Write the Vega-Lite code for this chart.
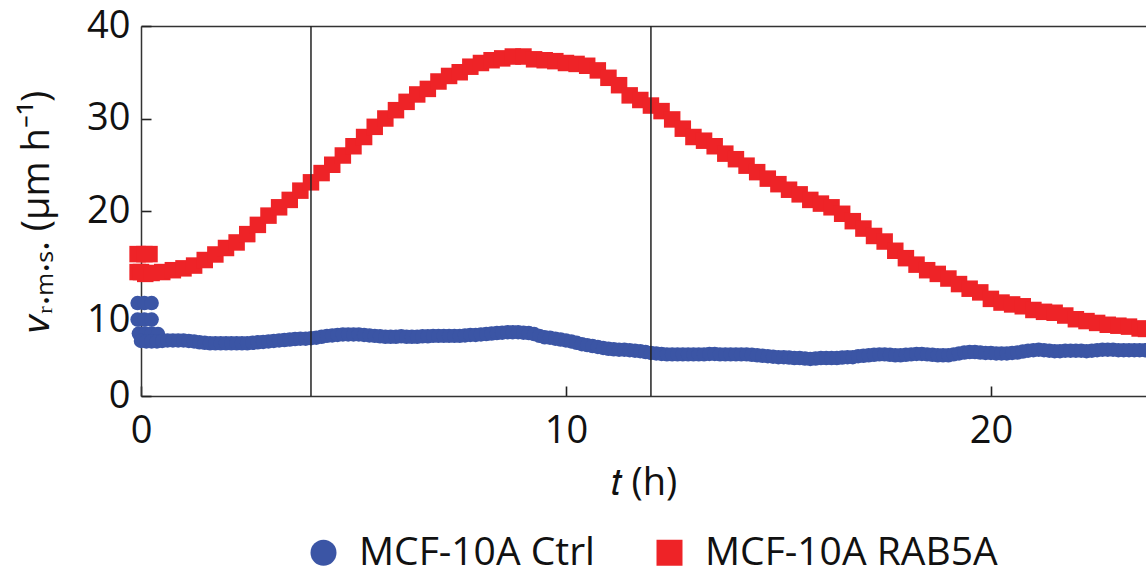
{
  "$schema": "https://vega.github.io/schema/vega-lite/v6.json",
  "autosize": "none",
  "width": 1005,
  "height": 370,
  "padding": {"left": 141, "top": 26, "right": 0, "bottom": 178},
  "background": "white",
  "config": {
    "font": "Open Sans",
    "view": {"stroke": null},
    "axis": {"grid": false, "labelFont": "Open Sans", "titleFont": "Open Sans", "labelFontSize": 38, "titleFontSize": 38, "titleFontWeight": "normal", "labelColor": "#111", "titleColor": "#111", "domainColor": "#333", "domainWidth": 1.5, "tickColor": "#222", "tickWidth": 1.6, "labelFlush": false},
    "legend": {"labelFont": "Open Sans", "labelFontSize": 39, "labelColor": "#111", "padding": 0, "labelLimit": 0}
  },
  "datasets": {
    "ctrl": [
      {"t": -0.08, "v": 10.05}, {"t": 0.08, "v": 10.05}, {"t": 0.25, "v": 10.05},
      {"t": -0.08, "v": 8.26}, {"t": 0.08, "v": 8.26}, {"t": 0.25, "v": 8.26},
      {"t": -0.05, "v": 6.75}, {"t": 0.1, "v": 6.75}, {"t": 0.25, "v": 6.75}, {"t": 0.4, "v": 6.7},
      {"t": 0, "v": 5.95}, {"t": 0.125, "v": 5.9}, {"t": 0.25, "v": 5.9}, {"t": 0.375, "v": 5.9}, {"t": 0.5, "v": 5.95}, {"t": 0.625, "v": 6.0}, {"t": 0.75, "v": 6.0}, {"t": 0.875, "v": 6.0},
      {"t": 1.0, "v": 6.0}, {"t": 1.125, "v": 5.95}, {"t": 1.25, "v": 5.9}, {"t": 1.375, "v": 5.8}, {"t": 1.5, "v": 5.75}, {"t": 1.625, "v": 5.7}, {"t": 1.75, "v": 5.7}, {"t": 1.875, "v": 5.7},
      {"t": 2.0, "v": 5.7}, {"t": 2.125, "v": 5.7}, {"t": 2.25, "v": 5.7}, {"t": 2.375, "v": 5.7}, {"t": 2.5, "v": 5.7}, {"t": 2.625, "v": 5.75}, {"t": 2.75, "v": 5.8}, {"t": 2.875, "v": 5.85},
      {"t": 3.0, "v": 5.9}, {"t": 3.125, "v": 5.95}, {"t": 3.25, "v": 6.0}, {"t": 3.375, "v": 6.05}, {"t": 3.5, "v": 6.1}, {"t": 3.625, "v": 6.15}, {"t": 3.75, "v": 6.2}, {"t": 3.875, "v": 6.2},
      {"t": 4.0, "v": 6.25}, {"t": 4.125, "v": 6.3}, {"t": 4.25, "v": 6.4}, {"t": 4.375, "v": 6.5}, {"t": 4.5, "v": 6.55}, {"t": 4.625, "v": 6.6}, {"t": 4.75, "v": 6.65}, {"t": 4.875, "v": 6.65},
      {"t": 5.0, "v": 6.65}, {"t": 5.125, "v": 6.65}, {"t": 5.25, "v": 6.6}, {"t": 5.375, "v": 6.55}, {"t": 5.5, "v": 6.5}, {"t": 5.625, "v": 6.45}, {"t": 5.75, "v": 6.4}, {"t": 5.875, "v": 6.4},
      {"t": 6.0, "v": 6.4}, {"t": 6.125, "v": 6.45}, {"t": 6.25, "v": 6.4}, {"t": 6.375, "v": 6.4}, {"t": 6.5, "v": 6.4}, {"t": 6.625, "v": 6.45}, {"t": 6.75, "v": 6.45}, {"t": 6.875, "v": 6.5},
      {"t": 7.0, "v": 6.5}, {"t": 7.125, "v": 6.5}, {"t": 7.25, "v": 6.5}, {"t": 7.375, "v": 6.5}, {"t": 7.5, "v": 6.5}, {"t": 7.625, "v": 6.55}, {"t": 7.75, "v": 6.6}, {"t": 7.875, "v": 6.6},
      {"t": 8.0, "v": 6.65}, {"t": 8.125, "v": 6.7}, {"t": 8.25, "v": 6.75}, {"t": 8.375, "v": 6.8}, {"t": 8.5, "v": 6.85}, {"t": 8.625, "v": 6.9}, {"t": 8.75, "v": 6.9}, {"t": 8.875, "v": 6.9},
      {"t": 9.0, "v": 6.85}, {"t": 9.125, "v": 6.8}, {"t": 9.25, "v": 6.7}, {"t": 9.375, "v": 6.5}, {"t": 9.5, "v": 6.35}, {"t": 9.625, "v": 6.3}, {"t": 9.75, "v": 6.2}, {"t": 9.875, "v": 6.1},
      {"t": 10.0, "v": 6.0}, {"t": 10.125, "v": 5.9}, {"t": 10.25, "v": 5.75}, {"t": 10.375, "v": 5.6}, {"t": 10.5, "v": 5.5}, {"t": 10.625, "v": 5.4}, {"t": 10.75, "v": 5.3}, {"t": 10.875, "v": 5.2},
      {"t": 11.0, "v": 5.1}, {"t": 11.125, "v": 5.05}, {"t": 11.25, "v": 5.0}, {"t": 11.375, "v": 5.0}, {"t": 11.5, "v": 4.95}, {"t": 11.625, "v": 4.9}, {"t": 11.75, "v": 4.85}, {"t": 11.875, "v": 4.75},
      {"t": 12.0, "v": 4.65}, {"t": 12.125, "v": 4.6}, {"t": 12.25, "v": 4.55}, {"t": 12.375, "v": 4.5}, {"t": 12.5, "v": 4.5}, {"t": 12.625, "v": 4.5}, {"t": 12.75, "v": 4.5}, {"t": 12.875, "v": 4.5},
      {"t": 13.0, "v": 4.5}, {"t": 13.125, "v": 4.5}, {"t": 13.25, "v": 4.5}, {"t": 13.375, "v": 4.55}, {"t": 13.5, "v": 4.55}, {"t": 13.625, "v": 4.5}, {"t": 13.75, "v": 4.5}, {"t": 13.875, "v": 4.5},
      {"t": 14.0, "v": 4.5}, {"t": 14.125, "v": 4.5}, {"t": 14.25, "v": 4.5}, {"t": 14.375, "v": 4.45}, {"t": 14.5, "v": 4.4}, {"t": 14.625, "v": 4.35}, {"t": 14.75, "v": 4.3}, {"t": 14.875, "v": 4.25},
      {"t": 15.0, "v": 4.2}, {"t": 15.125, "v": 4.2}, {"t": 15.25, "v": 4.15}, {"t": 15.375, "v": 4.1}, {"t": 15.5, "v": 4.1}, {"t": 15.625, "v": 4.05}, {"t": 15.75, "v": 4.0}, {"t": 15.875, "v": 4.05},
      {"t": 16.0, "v": 4.1}, {"t": 16.125, "v": 4.1}, {"t": 16.25, "v": 4.1}, {"t": 16.375, "v": 4.1}, {"t": 16.5, "v": 4.15}, {"t": 16.625, "v": 4.2}, {"t": 16.75, "v": 4.2}, {"t": 16.875, "v": 4.3},
      {"t": 17.0, "v": 4.35}, {"t": 17.125, "v": 4.4}, {"t": 17.25, "v": 4.45}, {"t": 17.375, "v": 4.5}, {"t": 17.5, "v": 4.5}, {"t": 17.625, "v": 4.45}, {"t": 17.75, "v": 4.4}, {"t": 17.875, "v": 4.4},
      {"t": 18.0, "v": 4.45}, {"t": 18.125, "v": 4.5}, {"t": 18.25, "v": 4.55}, {"t": 18.375, "v": 4.55}, {"t": 18.5, "v": 4.5}, {"t": 18.625, "v": 4.45}, {"t": 18.75, "v": 4.4}, {"t": 18.875, "v": 4.4},
      {"t": 19.0, "v": 4.4}, {"t": 19.125, "v": 4.5}, {"t": 19.25, "v": 4.6}, {"t": 19.375, "v": 4.7}, {"t": 19.5, "v": 4.75}, {"t": 19.625, "v": 4.75}, {"t": 19.75, "v": 4.7}, {"t": 19.875, "v": 4.65},
      {"t": 20.0, "v": 4.65}, {"t": 20.125, "v": 4.6}, {"t": 20.25, "v": 4.6}, {"t": 20.375, "v": 4.6}, {"t": 20.5, "v": 4.65}, {"t": 20.625, "v": 4.7}, {"t": 20.75, "v": 4.8}, {"t": 20.875, "v": 4.9},
      {"t": 21.0, "v": 4.95}, {"t": 21.125, "v": 5.0}, {"t": 21.25, "v": 4.95}, {"t": 21.375, "v": 4.9}, {"t": 21.5, "v": 4.85}, {"t": 21.625, "v": 4.85}, {"t": 21.75, "v": 4.9}, {"t": 21.875, "v": 4.9},
      {"t": 22.0, "v": 4.9}, {"t": 22.125, "v": 4.9}, {"t": 22.25, "v": 4.85}, {"t": 22.375, "v": 4.9}, {"t": 22.5, "v": 4.95}, {"t": 22.625, "v": 5.0}, {"t": 22.75, "v": 5.0}, {"t": 22.875, "v": 5.0},
      {"t": 23.0, "v": 4.95}, {"t": 23.125, "v": 4.95}, {"t": 23.25, "v": 4.95}, {"t": 23.375, "v": 4.95}, {"t": 23.5, "v": 4.95}, {"t": 23.625, "v": 4.95}
    ],
    "rab": [
      {"t": -0.08, "v": 15.34}, {"t": 0.08, "v": 15.34}, {"t": 0.2, "v": 15.34},
      {"t": -0.08, "v": 13.4}, {"t": 0.1, "v": 13.2},
      {"t": 0, "v": 13.4}, {"t": 0.25, "v": 13.3}, {"t": 0.5, "v": 13.4}, {"t": 0.75, "v": 13.6},
      {"t": 1.0, "v": 13.8}, {"t": 1.25, "v": 14.1}, {"t": 1.5, "v": 14.7}, {"t": 1.75, "v": 15.3},
      {"t": 2.0, "v": 16.0}, {"t": 2.25, "v": 16.6}, {"t": 2.5, "v": 17.5}, {"t": 2.75, "v": 18.5},
      {"t": 3.0, "v": 19.5}, {"t": 3.25, "v": 20.4}, {"t": 3.5, "v": 21.2}, {"t": 3.75, "v": 22.2},
      {"t": 4.0, "v": 23.1}, {"t": 4.25, "v": 24.1}, {"t": 4.5, "v": 25.0}, {"t": 4.75, "v": 26.0},
      {"t": 5.0, "v": 27.0}, {"t": 5.25, "v": 28.0}, {"t": 5.5, "v": 29.1}, {"t": 5.75, "v": 30.0},
      {"t": 6.0, "v": 30.9}, {"t": 6.25, "v": 31.8}, {"t": 6.5, "v": 32.6}, {"t": 6.75, "v": 33.2},
      {"t": 7.0, "v": 34.0}, {"t": 7.25, "v": 34.6}, {"t": 7.5, "v": 35.0}, {"t": 7.75, "v": 35.6},
      {"t": 8.0, "v": 36.0}, {"t": 8.25, "v": 36.3}, {"t": 8.5, "v": 36.5}, {"t": 8.75, "v": 36.7},
      {"t": 9.0, "v": 36.7}, {"t": 9.25, "v": 36.4}, {"t": 9.5, "v": 36.3}, {"t": 9.75, "v": 36.2},
      {"t": 10.0, "v": 36.0}, {"t": 10.25, "v": 35.9}, {"t": 10.5, "v": 35.7}, {"t": 10.75, "v": 35.2},
      {"t": 11.0, "v": 34.4}, {"t": 11.25, "v": 33.6}, {"t": 11.5, "v": 32.5}, {"t": 11.75, "v": 32.0},
      {"t": 12.0, "v": 31.4}, {"t": 12.25, "v": 30.8}, {"t": 12.5, "v": 29.9}, {"t": 12.75, "v": 28.9},
      {"t": 13.0, "v": 28.0}, {"t": 13.25, "v": 27.6}, {"t": 13.5, "v": 27.0}, {"t": 13.75, "v": 26.2},
      {"t": 14.0, "v": 25.6}, {"t": 14.25, "v": 24.9}, {"t": 14.5, "v": 24.2}, {"t": 14.75, "v": 23.5},
      {"t": 15.0, "v": 22.9}, {"t": 15.25, "v": 22.3}, {"t": 15.5, "v": 21.8}, {"t": 15.75, "v": 21.2},
      {"t": 16.0, "v": 20.8}, {"t": 16.25, "v": 20.4}, {"t": 16.5, "v": 19.7}, {"t": 16.75, "v": 18.9},
      {"t": 17.0, "v": 18.1}, {"t": 17.25, "v": 17.3}, {"t": 17.5, "v": 16.7}, {"t": 17.75, "v": 15.7},
      {"t": 18.0, "v": 14.9}, {"t": 18.25, "v": 14.2}, {"t": 18.5, "v": 13.6}, {"t": 18.75, "v": 13.2},
      {"t": 19.0, "v": 12.7}, {"t": 19.25, "v": 12.1}, {"t": 19.5, "v": 11.6}, {"t": 19.75, "v": 11.2},
      {"t": 20.0, "v": 10.5}, {"t": 20.25, "v": 10.1}, {"t": 20.5, "v": 9.9}, {"t": 20.75, "v": 9.7},
      {"t": 21.0, "v": 9.3}, {"t": 21.25, "v": 9.1}, {"t": 21.5, "v": 9.0}, {"t": 21.75, "v": 8.7},
      {"t": 22.0, "v": 8.3}, {"t": 22.25, "v": 8.1}, {"t": 22.5, "v": 7.9}, {"t": 22.75, "v": 7.7},
      {"t": 23.0, "v": 7.6}, {"t": 23.25, "v": 7.5}, {"t": 23.5, "v": 7.3}, {"t": 23.65, "v": 7.25}
    ],
    "vlines": [{"t": 4}, {"t": 12}]
  },
  "layer": [
    {
      "data": {"name": "ctrl"},
      "mark": {"type": "point", "filled": true, "opacity": 1, "size": 210, "clip": false},
      "encoding": {
        "x": {"field": "t", "type": "quantitative", "scale": {"domain": [0, 23.65], "nice": false, "zero": false},
          "axis": {"title": "𝑡 (h)", "values": [0, 10, 20], "tickSize": -10, "labelPadding": 26, "titlePadding": 14,
            "encode": {"ticks": {"update": {"y2": {"value": -10}}}}}},
        "y": {"field": "v", "type": "quantitative", "scale": {"domain": [0, 40], "nice": false},
          "axis": {"title": "𝑣ᵣ.ₘ.ₛ. (μm h⁻¹)", "values": [0, 10, 20, 30, 40], "tickSize": -10, "labelPadding": 21, "titlePadding": 30,
            "labelOffset": {"condition": {"test": "datum.value === 10", "value": 17}, "value": 0},
            "encode": {"ticks": {"update": {"x2": {"value": 10}}}}}},
        "color": {"datum": "MCF-10A Ctrl", "type": "nominal",
          "scale": {"domain": ["MCF-10A Ctrl", "MCF-10A RAB5A"], "range": ["#3b55a5", "#ee2327"]},
          "legend": {"orient": "none", "legendX": 163, "legendY": 507, "direction": "horizontal", "title": null, "symbolSize": 676, "labelOffset": 16, "columnPadding": 55, "symbolStrokeWidth": 0, "labelLimit": 0,
            "encode": {"symbols": {"update": {"size": {"signal": "datum.value === 'MCF-10A RAB5A' ? 470 : 676"}}}}}},
        "shape": {"datum": "MCF-10A Ctrl", "type": "nominal",
          "scale": {"domain": ["MCF-10A Ctrl", "MCF-10A RAB5A"], "range": ["circle", "square"]},
          "legend": {"orient": "none", "legendX": 163, "legendY": 507, "direction": "horizontal", "title": null, "symbolSize": 676, "labelOffset": 16, "columnPadding": 55, "symbolStrokeWidth": 0, "labelLimit": 0,
            "encode": {"symbols": {"update": {"size": {"signal": "datum.value === 'MCF-10A RAB5A' ? 470 : 676"}}}}}}
      }
    },
    {
      "data": {"name": "rab"},
      "mark": {"type": "point", "filled": true, "opacity": 1, "size": 272, "clip": false},
      "encoding": {
        "x": {"field": "t", "type": "quantitative", "axis": null},
        "y": {"field": "v", "type": "quantitative"},
        "color": {"datum": "MCF-10A RAB5A", "type": "nominal"},
        "shape": {"datum": "MCF-10A RAB5A", "type": "nominal"}
      }
    },
    {
      "data": {"name": "vlines"},
      "mark": {"type": "rule", "color": "#222", "strokeWidth": 1.5},
      "encoding": {
        "x": {"field": "t", "type": "quantitative",
          "axis": {"orient": "top", "labels": false, "ticks": false, "title": null, "domain": true}}
      }
    }
  ],
  "resolve": {"axis": {"x": "independent"}}
}
